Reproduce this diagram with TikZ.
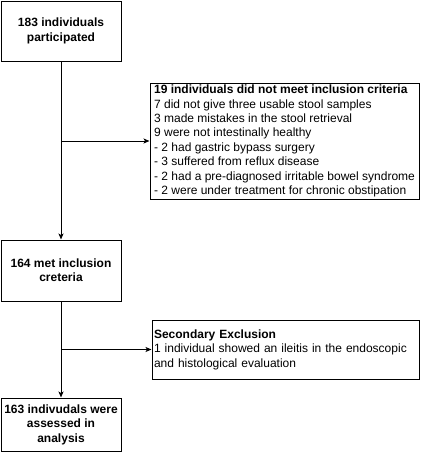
\documentclass[tikz,border=0pt]{standalone}
\usepackage{fontspec}
\setmainfont{Liberation Sans}
\usetikzlibrary{arrows.meta}
\begin{document}
\begin{tikzpicture}[x=1pt,y=-1pt,
  every node/.style={font=\fontsize{12}{14.4}\selectfont},
  flowbox/.style={draw=black,line width=1pt,inner sep=0pt,align=center,font=\fontsize{12}{14.4}\selectfont\bfseries},
  notebox/.style={draw=black,line width=1pt,inner sep=0pt,align=left},
  conn/.style={line width=1pt,-{Stealth[length=6pt,width=5pt,inset=1.5pt]}}]
\useasboundingbox (0,0) rectangle (421,461);
\node[flowbox,minimum width=120pt,minimum height=60pt] (b1) at (61,31) {183 individuals\\participated};
\node[notebox,minimum width=269pt,minimum height=116pt] (b2) at (284.5,141)
 {\textbf{19 individuals did not meet inclusion criteria}\\
  7 did not give three usable stool samples\\
  3 made mistakes in the stool retrieval\\
  9 were not intestinally healthy\\
  - 2 had gastric bypass surgery\\
  - 3 suffered from reflux disease\\
  - 2 had a pre-diagnosed irritable bowel syndrome\\
  - 2 were under treatment for chronic obstipation};
\node[flowbox,minimum width=120pt,minimum height=61pt] (b3) at (61,270.5) {164 met inclusion\\creteria};
\node[notebox,minimum width=267pt,minimum height=59pt,text width=263pt,inner xsep=2pt] (b4) at (285.5,349.5)
 {\textbf{Secondary Exclusion}\\
  1 individual showed an ileitis in the endoscopic\\
  and histological evaluation};
\node[flowbox,minimum width=120pt,minimum height=53pt] (b5) at (61,424.5) {163 indivudals were\\assessed in\\analysis};
\coordinate (j1) at (b1.south |- b2.west);
\coordinate (j2) at (b3.south |- b4.west);
\draw[conn] (b1.south) -- (b3.north);
\draw[conn] (j1) -- (b2.west);
\draw[conn] (b3.south) -- (b5.north);
\draw[conn] (j2) -- (b4.west);
\end{tikzpicture}
\end{document}
